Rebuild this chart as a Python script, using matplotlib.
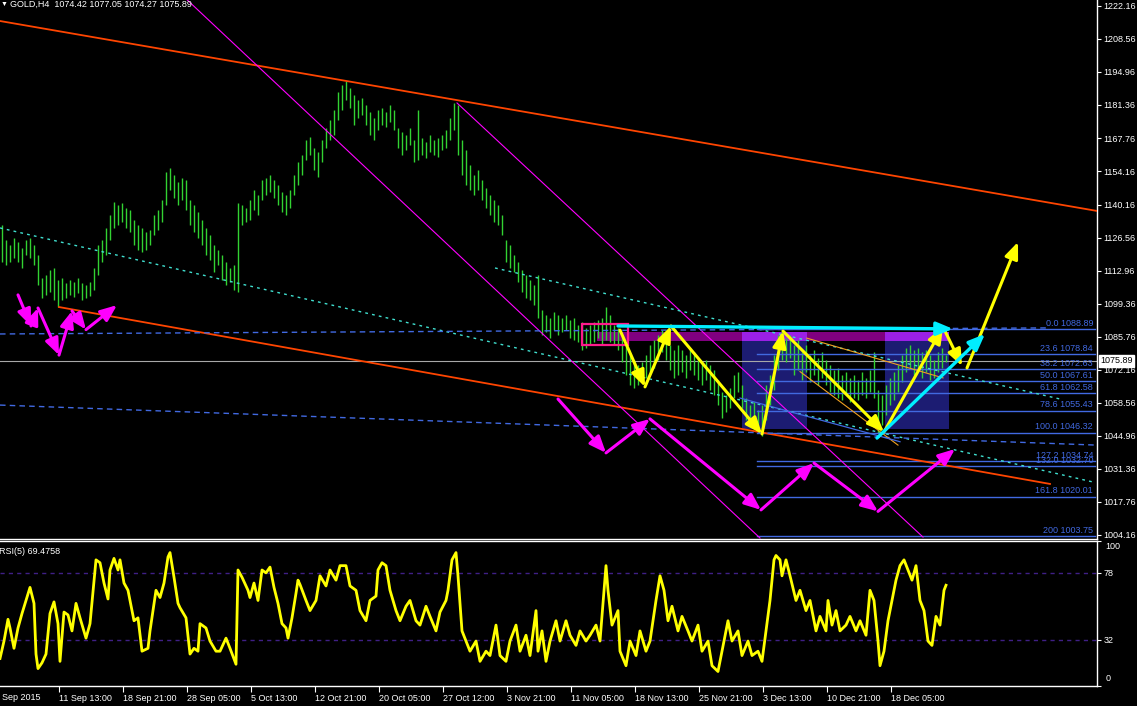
import numpy as np
import matplotlib.pyplot as plt
from matplotlib.patches import Rectangle
import matplotlib.transforms as mtransforms

plt.rcParams['font.family'] = ['Liberation Sans', 'DejaVu Sans']

# x is counted in H4 bars from the left edge of the window, y is price
bar_high = [1131.9,1125.7,1123.7,1126.5,1124.9,1122.4,1125.7,1126.5,1123.7,1119.6,
            1110.1,1111.3,1113.4,1114.2,1109.2,1110.1,1108.0,1109.2,1108.4,1110.1,
            1108.0,1107.2,1108.4,1114.2,1123.7,1125.7,1130.7,1136.0,1141.4,1140.1,
            1141.0,1138.9,1138.1,1134.0,1131.9,1130.7,1129.0,1129.8,1136.0,1138.1,
            1142.2,1153.8,1155.4,1152.5,1149.6,1151.3,1150.5,1142.2,1140.1,1137.3,
            1134.0,1130.7,1127.8,1123.7,1121.6,1119.6,1116.7,1114.2,1115.4,1141.0,
            1140.1,1138.9,1142.2,1146.3,1144.3,1150.5,1151.3,1152.5,1150.5,1148.4,
            1145.5,1144.3,1146.3,1152.5,1157.9,1160.8,1166.9,1168.2,1163.6,1162.0,
            1166.9,1171.9,1175.2,1179.3,1186.7,1189.6,1191.3,1188.4,1185.5,1183.4,
            1184.2,1181.4,1178.5,1176.0,1179.3,1180.1,1178.5,1181.4,1179.3,1171.9,
            1170.2,1169.0,1171.9,1166.9,1179.3,1167.8,1166.1,1169.0,1166.9,1167.8,
            1169.0,1171.1,1176.0,1182.2,1181.4,1166.9,1162.8,1156.6,1152.5,1154.6,
            1150.5,1147.2,1144.3,1142.2,1140.1,1136.0,1125.7,1123.7,1119.6,1116.7,
            1113.4,1111.3,1109.2,1107.2,1111.3,1096.9,1094.8,1093.6,1096.0,1094.8,
            1093.6,1094.8,1092.7,1093.6,1090.7,1091.9,1089.5,1090.7,1091.9,1092.7,
            1093.6,1098.1,1094.8,1090.7,1089.5,1086.6,1082.5,1078.3,1076.3,1074.2,
            1075.4,1078.3,1082.5,1084.5,1086.6,1088.6,1086.6,1082.5,1080.4,1082.5,
            1080.4,1078.3,1081.2,1079.6,1077.1,1075.4,1076.3,1074.2,1072.2,1068.0,
            1063.1,1061.9,1064.7,1070.1,1071.3,1066.0,1060.6,1057.7,1059.0,1055.6,
            1057.7,1066.0,1070.1,1078.3,1086.6,1088.6,1085.3,1086.6,1082.5,1084.5,
            1079.6,1082.5,1078.3,1080.4,1077.1,1079.6,1076.3,1074.2,1072.2,1073.0,
            1070.1,1071.3,1068.9,1070.1,1068.0,1071.3,1068.9,1072.2,1079.6,1063.9,
            1061.9,1066.0,1068.9,1071.3,1074.2,1078.3,1081.2,1082.5,1080.4,1081.2,
            1079.6,1080.4,1078.3,1076.3,1079.6,1081.2,1078.3]
bar_low = [1116.7,1115.4,1116.7,1118.3,1116.7,1114.2,1119.6,1118.3,1115.4,1107.2,
           1101.8,1103.1,1104.3,1101.0,1098.1,1101.0,1101.8,1103.1,1102.2,1103.9,
           1101.0,1101.8,1102.6,1105.1,1111.3,1116.7,1119.6,1125.7,1130.7,1131.9,
           1133.1,1130.7,1129.0,1123.7,1121.6,1120.8,1121.6,1123.7,1127.8,1129.8,
           1133.1,1140.1,1146.3,1143.0,1140.1,1142.2,1138.1,1131.9,1129.0,1126.5,
           1123.7,1119.6,1117.5,1112.5,1115.4,1109.2,1107.2,1108.4,1105.1,1104.3,
           1131.9,1133.1,1134.0,1138.1,1136.0,1142.2,1144.3,1145.5,1143.0,1140.1,
           1137.3,1136.0,1138.9,1144.3,1148.4,1152.5,1158.7,1160.8,1154.6,1151.7,
           1157.9,1163.6,1166.9,1169.0,1175.2,1179.3,1183.4,1180.1,1173.1,1176.0,
           1177.2,1173.1,1169.0,1166.9,1171.1,1173.1,1172.3,1174.4,1171.1,1163.6,
           1160.8,1162.8,1164.9,1157.9,1158.7,1160.8,1159.5,1162.0,1160.8,1159.9,
           1162.8,1163.6,1166.9,1171.1,1160.8,1152.5,1148.4,1146.3,1144.3,1146.3,
           1142.2,1138.9,1136.0,1133.1,1131.9,1127.8,1116.7,1114.2,1112.5,1108.4,
           1104.3,1101.8,1101.0,1098.9,1093.6,1086.6,1087.8,1085.3,1088.6,1086.6,
           1087.8,1088.6,1085.3,1084.5,1083.7,1080.4,1081.2,1082.5,1083.7,1085.3,
           1082.5,1084.5,1083.7,1082.5,1080.4,1075.4,1070.1,1066.0,1064.7,1066.0,
           1068.0,1068.9,1071.3,1073.0,1076.3,1079.6,1076.3,1072.2,1068.9,1070.1,
           1071.3,1068.9,1072.2,1070.1,1068.0,1066.0,1068.0,1063.9,1061.9,1057.7,
           1052.4,1054.8,1056.5,1060.6,1063.1,1056.5,1051.6,1049.5,1050.7,1047.4,
           1044.9,1051.6,1057.7,1063.9,1072.2,1076.3,1075.4,1077.1,1070.1,1072.2,
           1068.0,1071.3,1067.2,1070.1,1066.0,1068.9,1066.0,1063.1,1061.9,1060.6,
           1059.8,1061.9,1059.0,1060.6,1059.8,1061.9,1060.6,1063.1,1060.6,1046.2,
           1049.5,1053.6,1057.7,1059.8,1063.1,1067.2,1071.3,1073.0,1070.1,1072.2,
           1068.9,1071.3,1068.0,1068.9,1071.3,1073.0,1075.4]
bid = 1075.89

rsi_bar = [0,2,4,5,7,9,11,13,15,17,18,19,21,23,25,27,29,30,32,34,36,38,40,43,45,
           48,50,52,54,55,57,59,60,62,64,67,69,71,74,75,78,80,82,84,85,87,89,90,93,95,
           97,99,100,103,105,108,110,113,115,118,119,121,124,125,127,129,131,133,135,137,
           139,141,143,144,146,148,149,150,153,155,158,160,163,165,168,170,173,175,178,180,
           183,185,188,189,191,193,195,198,200,203,205,208,210,213,215,218,220,223,224,226,
           228,229,231,233,235,238,240,243,245,248,250,253,255,258,260,263,265,268,269,271,
           273,275,278,280,283,285,288,290,293,295,298,300,303,304,306,309,310,313,315,318,
           320,323,325,328,330,332,334,336,339,341,344,346,349,351,354,356,359,361,364,366,
           369,371,374,376,379,381,383,385,387,388,390,391,393,395,398,400,403,405,408,410,
           413,414,416,418,420,423,425,428,430,433,435,437,439,440,442,444,446,448,450,452,
           454,456,458,460,462,464,466,468,470,472,473]
rsi_val = [19,31,46,40,26,40,50,59,68,57,22,12,16,22,50,58,43,17,51,49,38,57,47,33,43,
           87,85,71,60,80,88,80,87,71,66,45,47,24,26,38,66,61,71,89,92,75,57,54,47,22,
           26,24,43,40,31,24,24,33,26,15,80,75,66,61,71,59,80,78,82,68,
           57,43,40,33,47,64,73,70,59,52,59,76,69,80,73,83,83,69,66,52,
           45,59,62,80,85,83,66,52,45,55,59,45,42,55,48,38,51,59,66,87,
           92,76,38,31,24,31,17,24,21,42,21,17,31,42,24,35,21,52,24,38,
           17,31,45,31,45,35,28,38,31,35,42,31,83,66,42,52,24,14,31,21,
           38,24,31,59,76,66,45,55,38,48,38,31,42,24,31,14,10,24,45,31,
           38,21,31,21,24,17,38,59,87,90,87,76,87,76,59,66,52,59,38,48,
           38,59,42,52,38,42,48,38,45,35,66,59,31,14,24,45,59,73,83,87,
           80,73,83,59,52,31,28,48,42,66,69.4758]
rsi_levels = [78, 32]

price_ticks = [1222.16,1208.56,1194.96,1181.36,1167.76,1154.16,1140.16,1126.56,1112.96,
               1099.36,1085.76,1072.16,1058.56,1044.96,1031.36,1017.76,1004.16]
date_ticks = [29.5,61.5,93.5,125.5,157.5,189.5,221.5,253.5,285.5,317.5,349.5,381.5,413.5,445.5]
date_labels = ['11 Sep 13:00','18 Sep 21:00','28 Sep 05:00','5 Oct 13:00','12 Oct 21:00',
               '20 Oct 05:00','27 Oct 12:00','3 Nov 21:00','11 Nov 05:00','18 Nov 13:00',
               '25 Nov 21:00','3 Dec 13:00','10 Dec 21:00','18 Dec 05:00']

# chart objects: ((bar, price), (bar, price))
orange_lines = [((-10, 1217.4), (548.5, 1137.7)), ((29.5, 1098.1), (525, 1025.2))]
magenta_lines = [((80, 1235.2), (380, 1002.9)), ((228.5, 1182.2), (461.5, 1003.3))]
cyan_dotted = [((0, 1130.7), (546.5, 1026.0)), ((247.5, 1114.2), (530, 1060.2))]
blue_dashed = [((0, 1087.0), (523.5, 1089.5)), ((0, 1057.7), (548.5, 1041.2))]
thin_orange = [((403.4, 1085.3), (471.5, 1068.9)), ((400, 1071.5), (449, 1041.2))]
thin_blue = [((370, 1060.6), (450, 1042.6))]

yellow_path = [(310, 1088.6), (322.5, 1065.2), (335.5, 1090.3), (381, 1045.8), (391.5, 1088.2),
               (442, 1046.6), (471.5, 1089.9), (481, 1073.8)]
yellow_last = [(483.5, 1073.0), (509, 1124.9)]
cyan_arrows = [((438.5, 1044.1), (492.5, 1087.0)), ((309, 1090.3), (476.5, 1089.1))]
magenta_left = [(9, 1103.1), (15.5, 1090.3), (19, 1097.7), (29.5, 1078.3), (36, 1096.5),
                (43, 1088.8), (58.5, 1098.9)]
magenta_right = [(279, 1060.2), (303, 1038.0), (325, 1052.0), (380.5, 1014.5), (407, 1033.8),
                 (439, 1013.9), (477.5, 1039.6)]

navy_boxes = [(371, 403.5), (442.5, 474.5)]
navy_price = (1047.85, 1087.8)
purple_band = (298.5, 474.5, 1083.9, 1087.7)
pink_frame = (290.9, 313.9, 1082.5, 1091.0)

fib_span = (378.5, 547.5)
fib_names = ['0.0', '23.6', '38.2', '50.0', '61.8', '78.6', '100.0', '127.2', '132.0', '161.8', '200']
fib_prices = [1088.89, 1078.84, 1072.63, 1067.61, 1062.58, 1055.43, 1046.32, 1034.74, 1032.70, 1020.01, 1003.75]

W, H = 1137, 706
fig = plt.figure(figsize=(W / 100, H / 100), dpi=100, facecolor='black')
ax = fig.add_axes([0, 1 - 539 / H, 1097 / W, 539 / H], facecolor='black')
ax2 = fig.add_axes([0, 1 - 686 / H, 1097 / W, 145 / H], facecolor='black')

ax.set_xlim(0, 548.5)
ax.set_ylim(1002.51, 1224.63)
ax2.set_xlim(0, 548.5)
ax2.set_ylim(0, 100)

fs = 6.5
blue = '#4169e1'

# background zones
for b0, b1 in navy_boxes:
    ax.add_patch(Rectangle((b0, navy_price[0]), b1 - b0, navy_price[1] - navy_price[0],
                           facecolor='#1c1c72', edgecolor='none', zorder=1))
ax.add_patch(Rectangle((purple_band[0], purple_band[2]), purple_band[1] - purple_band[0],
                       purple_band[3] - purple_band[2], facecolor='#800080', edgecolor='none', zorder=1.1))
for b0, b1 in navy_boxes:
    ax.add_patch(Rectangle((b0, purple_band[2]), b1 - b0, purple_band[3] - purple_band[2],
                           facecolor='#9b20e6', edgecolor='none', zorder=1.2))

ax.axhline(bid, color='#a8a8a8', lw=0.8, zorder=1.5)

# price bars
xb = np.arange(len(bar_high)) * 2 + 1
ax.vlines(xb, bar_low, bar_high, color='#32d232', lw=1.0, zorder=2)

# fibonacci
for name, p in zip(fib_names, fib_prices):
    ax.plot(fib_span, [p, p], color=blue, lw=1, zorder=3)
    ax.text(546.5, p + 0.5, '%s %.2f' % (name, p), color=blue, fontsize=fs,
            ha='right', va='bottom', zorder=3)

for (a, b) in orange_lines:
    ax.plot([a[0], b[0]], [a[1], b[1]], color='#ff4500', lw=1.3, zorder=4)
for (a, b) in magenta_lines:
    ax.plot([a[0], b[0]], [a[1], b[1]], color='#ff00ff', lw=0.8, zorder=4)
for (a, b) in cyan_dotted:
    ax.plot([a[0], b[0]], [a[1], b[1]], color='#40e0d0', lw=1, ls=(0, (2, 3)), zorder=4)
for (a, b) in blue_dashed:
    ax.plot([a[0], b[0]], [a[1], b[1]], color=blue, lw=1, ls=(0, (4, 3)), zorder=4)
for (a, b) in thin_orange:
    ax.plot([a[0], b[0]], [a[1], b[1]], color='#f0a020', lw=0.8, zorder=4)
for (a, b) in thin_blue:
    ax.plot([a[0], b[0]], [a[1], b[1]], color=blue, lw=0.9, zorder=4)

ax.add_patch(Rectangle((pink_frame[0], pink_frame[2]), pink_frame[1] - pink_frame[0],
                       pink_frame[3] - pink_frame[2], facecolor='none', edgecolor='#ff1a8c',
                       lw=1.6, zorder=5))


def arrow(p0, p1, color, lw, scale):
    ax.annotate('', xy=p1, xytext=p0, zorder=6, annotation_clip=False,
                arrowprops=dict(arrowstyle='-|>,head_length=1.1,head_width=0.45', color=color,
                                lw=lw, shrinkA=0, shrinkB=0, mutation_scale=scale))


for path, col in [(yellow_path, '#ffff00'), (yellow_last, '#ffff00'),
                  (magenta_left, '#ff00ff'), (magenta_right, '#ff00ff')]:
    for p0, p1 in zip(path[:-1], path[1:]):
        arrow(p0, p1, col, 2.2, 9)
for p0, p1 in cyan_arrows:
    arrow(p0, p1, '#00eeff', 2.4, 9)

# axes styling
for a in (ax, ax2):
    for s in a.spines.values():
        s.set_color('white')
        s.set_linewidth(1)
    a.spines['left'].set_visible(False)
ax.spines['top'].set_visible(False)

ax.yaxis.tick_right()
ax.set_yticks(price_ticks)
ax.set_yticklabels(['%.2f' % t for t in price_ticks])
ax.tick_params(axis='y', colors='white', labelsize=fs, length=3, pad=1.5, width=0.8)
ax.set_xticks([])

trans = mtransforms.blended_transform_factory(ax.transAxes, ax.transData)
ax.text(1.003, bid, '%.2f' % bid, transform=trans, color='black', fontsize=fs, va='center',
        ha='left', clip_on=False, zorder=10,
        bbox=dict(facecolor='white', edgecolor='white', pad=1.2))

ax2.plot(rsi_bar, rsi_val, color='#ffff00', lw=2.0, zorder=3)
for lv in rsi_levels:
    ax2.axhline(lv, color='#3f1f86', lw=1, ls=(0, (3, 3)), zorder=2)
ax2.yaxis.tick_right()
ax2.set_yticks([0, 32, 78, 100])
ax2.set_yticklabels(['', '32', '78', ''])
ax2.tick_params(axis='y', colors='white', labelsize=fs, length=3, pad=1.5, width=0.8)
ax2.text(1.008, 0.99, '100', transform=ax2.transAxes, color='white', fontsize=fs, va='top', ha='left')
ax2.text(1.008, 0.02, '0', transform=ax2.transAxes, color='white', fontsize=fs, va='bottom', ha='left')
ax2.set_xticks(date_ticks)
ax2.set_xticklabels(date_labels, ha='left')
ax2.tick_params(axis='x', colors='white', labelsize=fs, length=4, pad=2, width=0.8)
fig.text(2 / W, 1 - 697.5 / H, 'Sep 2015', color='white', fontsize=fs, va='center', ha='left')
ax2.text(-0.5, 96, 'RSI(5) 69.4758', color='white', fontsize=fs, va='top', ha='left')

fig.text(1 / W, 1 - 4.5 / H, '\u25bc', color='white', fontsize=5, va='center', ha='left')
fig.text(10 / W, 1 - 4.5 / H, 'GOLD,H4  1074.42 1077.05 1074.27 1075.89', color='white',
         fontsize=fs, va='center', ha='left')

fig.savefig('out.png', dpi=100, facecolor='black')
